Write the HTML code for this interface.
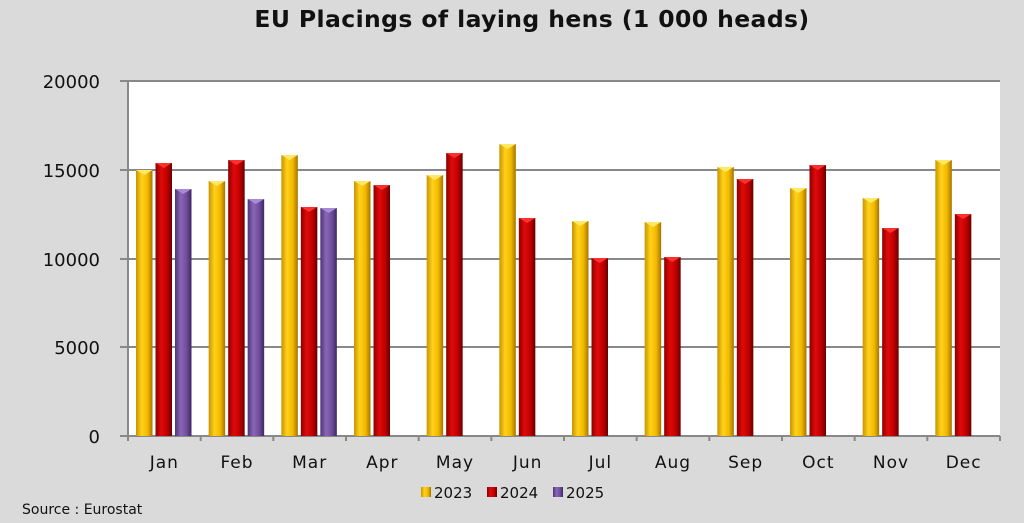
<!DOCTYPE html>
<html><head><meta charset="utf-8"><style>
body{margin:0;background:#dadada;}
svg{display:block;font-family:"DejaVu Sans","Liberation Sans",sans-serif;}
</style></head><body>
<svg width="1024" height="523" viewBox="0 0 1024 523">
<defs>
<linearGradient id="gy" x1="0" x2="1"><stop offset="0" stop-color="#c89400"/><stop offset="0.35" stop-color="#ffd21a"/><stop offset="0.7" stop-color="#f2b800"/><stop offset="1" stop-color="#a57400"/></linearGradient>
<linearGradient id="gr" x1="0" x2="1"><stop offset="0" stop-color="#8a0000"/><stop offset="0.35" stop-color="#e00a0a"/><stop offset="0.7" stop-color="#c00000"/><stop offset="1" stop-color="#6a0000"/></linearGradient>
<linearGradient id="gp" x1="0" x2="1"><stop offset="0" stop-color="#4e3474"/><stop offset="0.35" stop-color="#8a66b8"/><stop offset="0.7" stop-color="#6e4d9a"/><stop offset="1" stop-color="#3e2860"/></linearGradient>
</defs>
<rect width="1024" height="523" fill="#dadada"/>
<text x="532" y="27" text-anchor="middle" font-size="23.5" font-weight="bold" letter-spacing="0.4" fill="#111">EU Placings of laying hens (1 000 heads)</text>
<rect x="128" y="81" width="872" height="355" fill="#fff"/>
<g stroke="#888" stroke-width="2">
<line x1="120" y1="81" x2="1000" y2="81"/>
<line x1="120" y1="170" x2="1000" y2="170"/>
<line x1="120" y1="259" x2="1000" y2="259"/>
<line x1="120" y1="347" x2="1000" y2="347"/>
<line x1="120" y1="436" x2="1000" y2="436"/>
<line x1="128" y1="81" x2="128" y2="441"/>
</g>
<g stroke="#888" stroke-width="2" id="ticks"></g>
<g font-size="18" fill="#111" text-anchor="end">
<text x="100" y="88">20000</text><text x="100" y="177">15000</text><text x="100" y="266">10000</text><text x="100" y="354">5000</text><text x="100" y="443">0</text>
</g>
<g id="bars"></g>
<g font-size="17" fill="#111" text-anchor="middle" letter-spacing="1" id="mlab"></g>
<g font-size="15" fill="#111">
<rect x="421" y="487" width="10" height="10" fill="url(#gy)"/><text x="434" y="498">2023</text>
<rect x="487" y="487" width="10" height="10" fill="url(#gr)"/><text x="500" y="498">2024</text>
<rect x="553" y="487" width="10" height="10" fill="url(#gp)"/><text x="566" y="498">2025</text>
<text x="22" y="514" font-size="14">Source : Eurostat</text>
</g>
</svg>
<script>
var tops=[[170,163,189],[181,160,199],[155,207,208],[181,185],[175,153],[144,218],[221,258],[222,257],[167,179],[188,165],[198,228],[160,214]];
var months=["Jan","Feb","Mar","Apr","May","Jun","Jul","Aug","Sep","Oct","Nov","Dec"];
var fills=["url(#gy)","url(#gr)","url(#gp)"],caps=["#ffe866","#ff3030","#a88ad8"];
var ns="http://www.w3.org/2000/svg",b=document.getElementById("bars"),t=document.getElementById("ticks"),m=document.getElementById("mlab");
var cw=872/12;
function el(n,a,p){var e=document.createElementNS(ns,n);for(var k in a)e.setAttribute(k,a[k]);p.appendChild(e);return e;}
for(var i=0;i<12;i++){var x0=128+i*cw;
el("line",{x1:x0+cw,y1:436,x2:x0+cw,y2:441},t);
var tx=el("text",{x:x0+cw/2,y:468},m);tx.textContent=months[i];
tops[i].forEach(function(y,j){var x=x0+8+j*19.5;
el("rect",{x:x,y:y,width:16.5,height:436-y,fill:fills[j]},b);
el("polygon",{points:(x)+","+y+" "+(x+16.5)+","+y+" "+(x+8.25)+","+(y+5),fill:caps[j]},b);});}
</script>
</body></html>
